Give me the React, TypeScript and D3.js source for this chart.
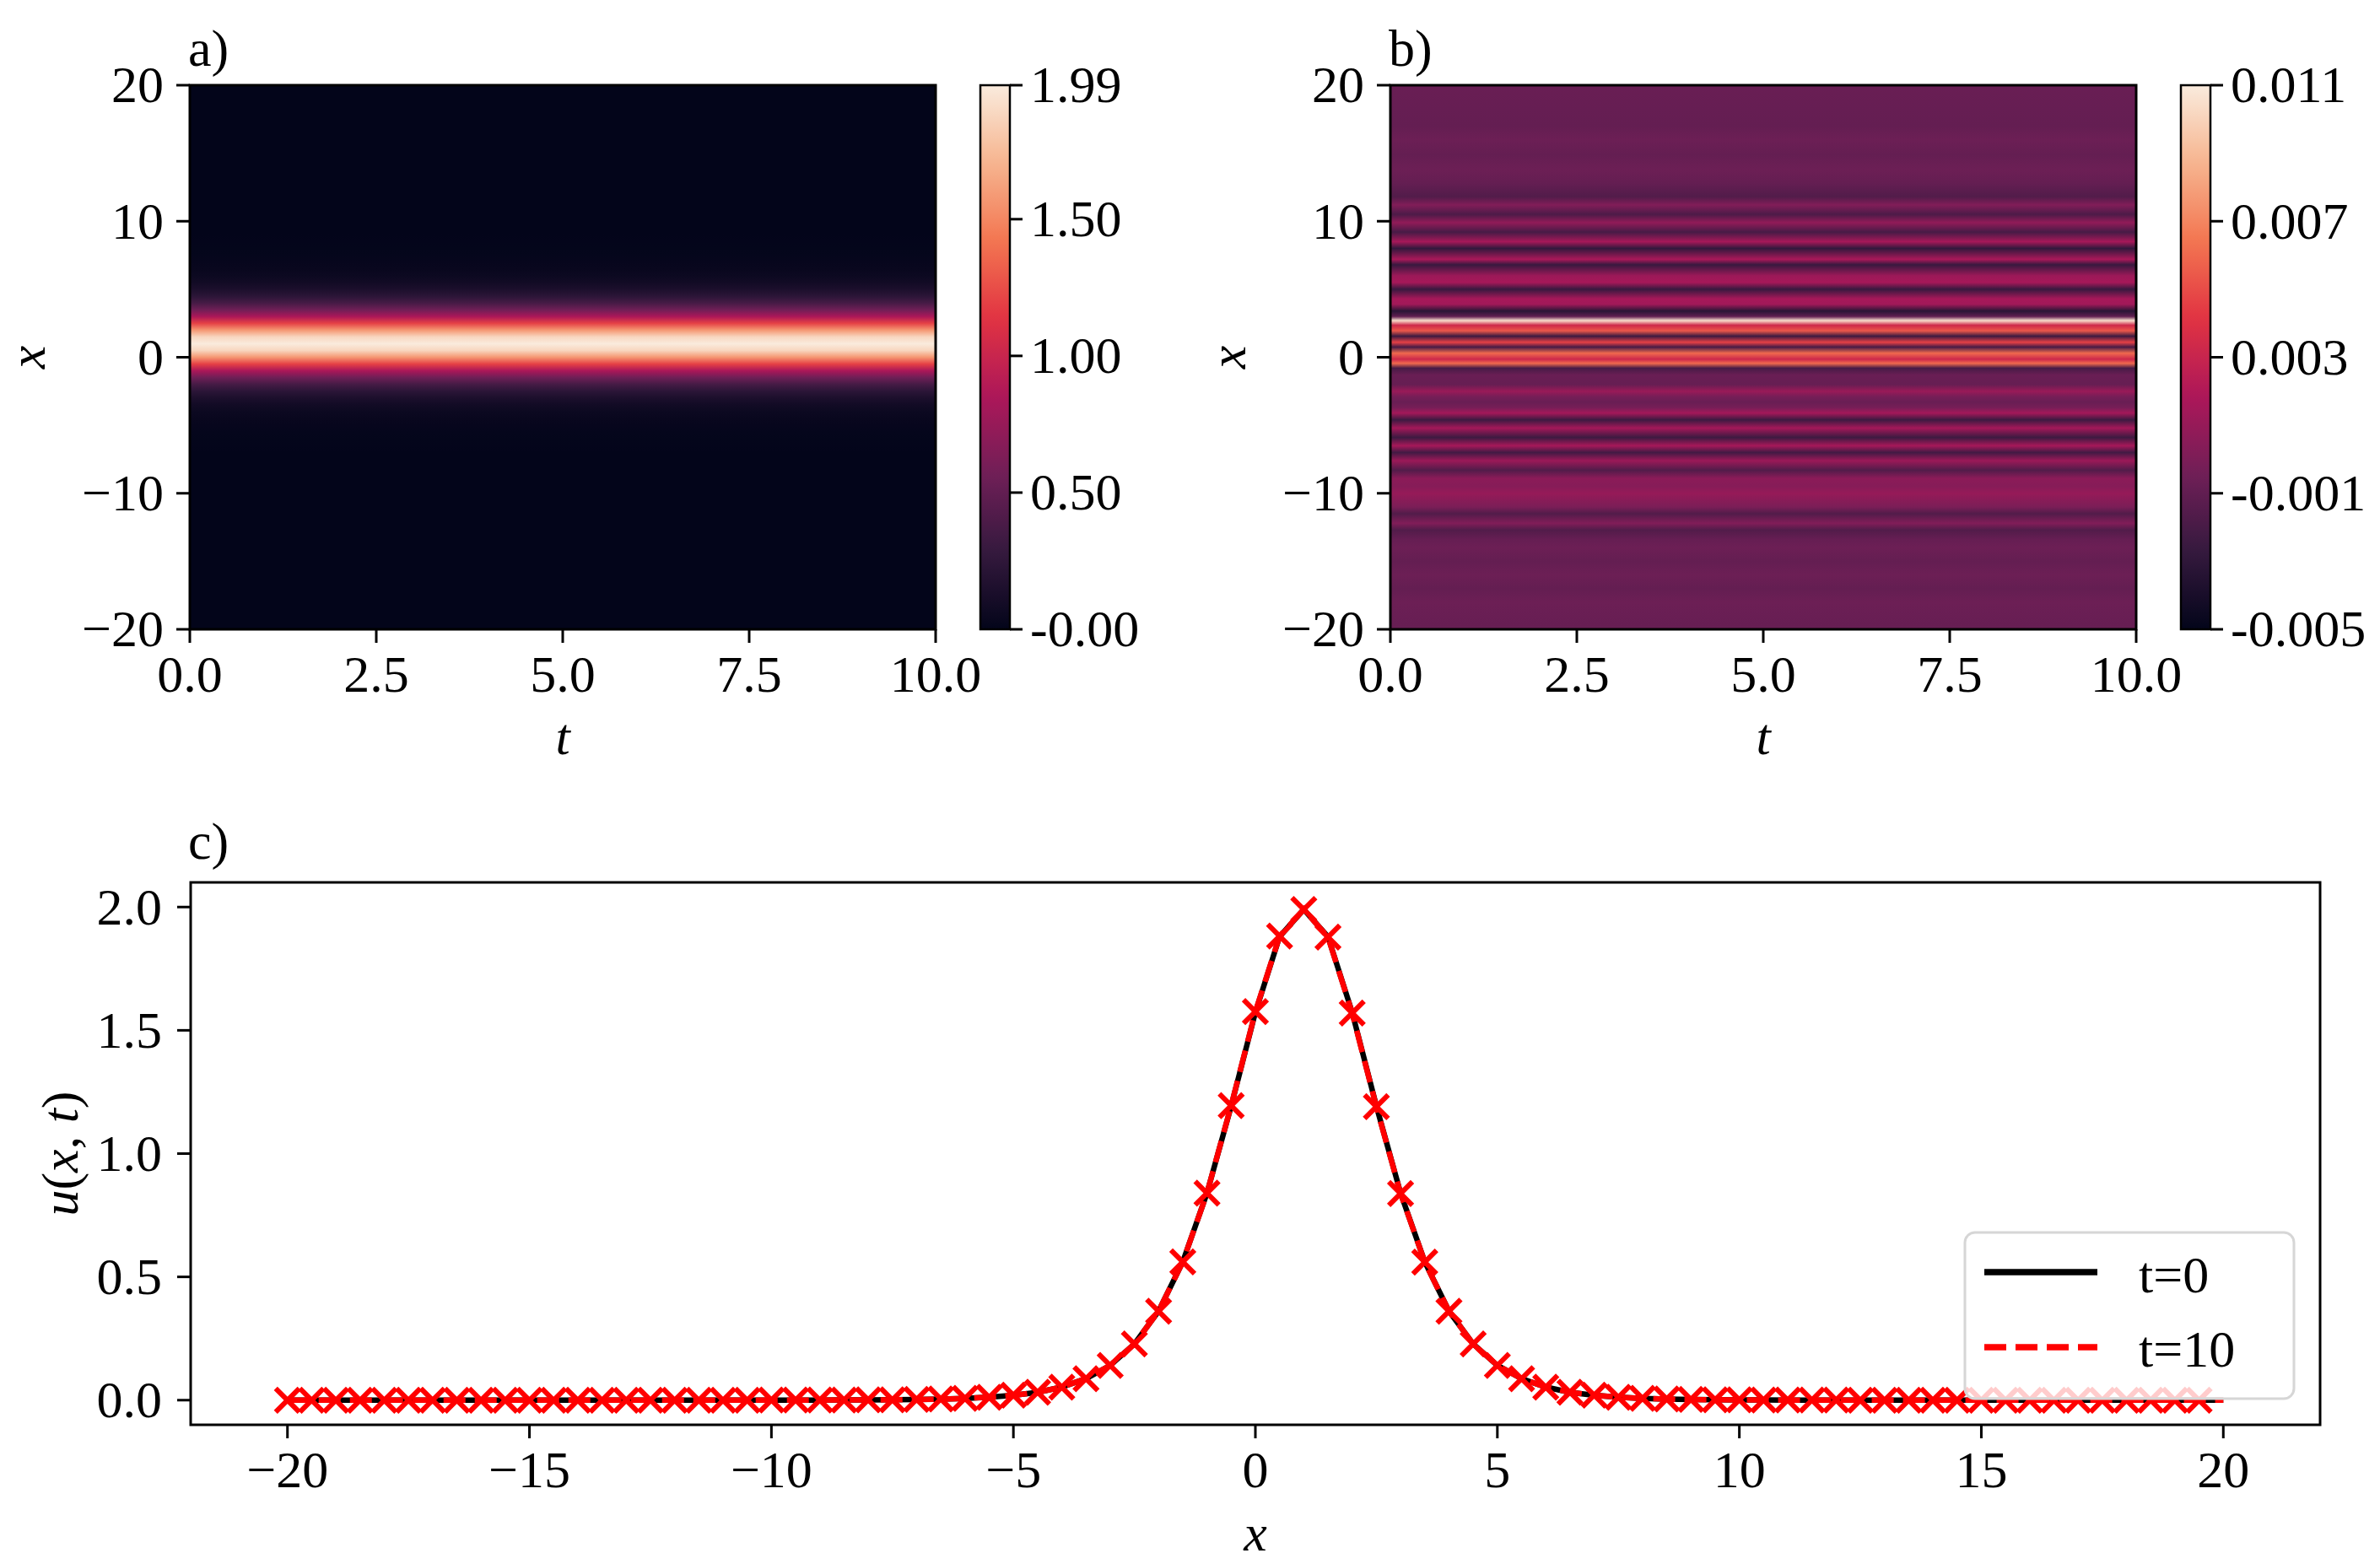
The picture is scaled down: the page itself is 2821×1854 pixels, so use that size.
import React from 'react';
import * as d3 from 'd3';

// ---- data ------------------------------------------------------------
// spatial grid used for the profile in panel c and the rows of heatmap a
const xGrid = [
  -20, -19.5, -19, -18.5, -18, -17.5, -17, -16.5, -16, -15.5,
  -15, -14.5, -14, -13.5, -13, -12.5, -12, -11.5, -11, -10.5,
  -10, -9.5, -9, -8.5, -8, -7.5, -7, -6.5, -6, -5.5,
  -5, -4.5, -4, -3.5, -3, -2.5, -2, -1.5, -1, -0.5,
  0, 0.5, 1, 1.5, 2, 2.5, 3, 3.5, 4, 4.5,
  5, 5.5, 6, 6.5, 7, 7.5, 8, 8.5, 9, 9.5,
  10, 10.5, 11, 11.5, 12, 12.5, 13, 13.5, 14, 14.5,
  15, 15.5, 16, 16.5, 17, 17.5, 18, 18.5, 19, 19.5, 20,
];

// u(x, t=0)
const uT0 = [
  0, 0, 0, 0, 0, 0, 0, 0, 0, 0,
  0, 0, 0, 0, 0, 0, 0, 0, 0, 0,
  0.0001, 0.0002, 0.0004, 0.0006, 0.001, 0.0016, 0.0027, 0.0044, 0.0073, 0.012,
  0.02, 0.032, 0.053, 0.087, 0.141, 0.228, 0.361, 0.561, 0.84, 1.193,
  1.573, 1.88, 1.99, 1.88, 1.573, 1.193, 0.84, 0.561, 0.361, 0.228,
  0.141, 0.087, 0.053, 0.032, 0.02, 0.012, 0.0073, 0.0044, 0.0027, 0.0016,
  0.001, 0.0006, 0.0004, 0.0002, 0.0001, 0, 0, 0, 0, 0,
  0, 0, 0, 0, 0, 0, 0, 0, 0, 0, 0,
];

// u(x, t=10)
const uT10 = [
  0, 0, 0, 0, 0, 0, 0, 0, 0, 0,
  0, 0, 0, 0, 0, 0, 0, 0, 0, 0,
  0.0001, 0.0002, 0.0004, 0.0006, 0.001, 0.0016, 0.0027, 0.0044, 0.0073, 0.012,
  0.02, 0.032, 0.053, 0.087, 0.141, 0.228, 0.361, 0.561, 0.84, 1.195,
  1.576, 1.882, 1.99, 1.878, 1.57, 1.19, 0.838, 0.56, 0.361, 0.228,
  0.141, 0.087, 0.053, 0.032, 0.02, 0.012, 0.0073, 0.0044, 0.0027, 0.0016,
  0.001, 0.0006, 0.0004, 0.0002, 0.0001, 0, 0, 0, 0, 0,
  0, 0, 0, 0, 0, 0, 0, 0, 0, 0, 0,
];

// difference u(x,10) - u(x,0)
const diffX = [
  -20, -18, -17, -16, -15, -14, -13.4, -12.7, -12.2, -11.5,
  -11, -10, -9.5, -8.9, -8.3, -7.6, -7, -6.5, -5.9, -5.2,
  -4.6, -4.1, -3.7, -3.3, -2.9, -2.5, -2, -1.3, -0.8, -0.45,
  -0.15, 0.3, 0.75, 1.1, 1.55, 1.95, 2.35, 2.7, 3, 3.4,
  3.9, 4.3, 5, 5.5, 6, 6.8, 7.2, 8, 8.5, 9.2,
  9.9, 10.5, 11.2, 11.8, 12.8, 13.8, 14.9, 16, 17, 18.2, 20,
];
const diffU = [
  -0.0008, -0.0006, -0.0009, -0.0006, -0.0009, -0.0006, -0.0008, -0.0016, 0.0002, -0.0016,
  0.0, 0.001, 0.0004, 0.0006, -0.0016, 0.0012, -0.0022, 0.0016, -0.0024, 0.0015,
  -0.0024, 0.0015, -0.0002, -0.0007, -0.0002, 0.0011, -0.0008, -0.0007, -0.002, 0.006,
  0.0032, 0.006, -0.002, 0.0046, -0.0024, 0.0054, 0.0033, 0.0105, -0.001, -0.0032,
  0.0014, 0.0016, -0.0026, 0.0016, 0.0012, -0.0026, 0.0017, -0.0028, 0.0016, -0.002,
  0.0008, -0.0018, 0.0002, -0.0016, -0.0009, -0.0006, -0.0009, -0.0006, -0.0009, -0.0008, -0.0007,
];

const tTicks = [0, 2.5, 5, 7.5, 10];
const xTicksHeat = [-20, -10, 0, 10, 20];
const cbTicksA = [0, 0.5, 1.0, 1.5, 1.99];
const cbLabelsA = ['-0.00', '0.50', '1.00', '1.50', '1.99'];
const cbTicksB = [-0.005, -0.001, 0.003, 0.007, 0.011];
const cbLabelsB = ['-0.005', '-0.001', '0.003', '0.007', '0.011'];
const xTicksC = [-20, -15, -10, -5, 0, 5, 10, 15, 20];
const yTicksC = [0, 0.5, 1.0, 1.5, 2.0];

// seaborn "rocket"
const rocketColors = ['#03051A', '#35193E', '#701F57', '#AD1759', '#E13342', '#F37651', '#F6B48F', '#FAEBDD'];
const rocket = d3.piecewise(d3.interpolateRgb, rocketColors);

const FONT = '"Liberation Serif", "DejaVu Serif", serif';
const FS = 62;
const TOP = 101;
const BOTTOM = 746;
const HW = 884;
const TICK = 16;

type HeatProps = {
  id: string;
  left: number;
  letter: string;
  xs: number[];
  vals: number[];
  cDomain: [number, number];
  cbTicks: number[];
  cbLabels: string[];
};

function Heatmap({ id, left, letter, xs, vals, cDomain, cbTicks, cbLabels }: HeatProps) {
  const t = d3.scaleLinear().domain([0, 10]).range([left, left + HW]);
  const y = d3.scaleLinear().domain([-20, 20]).range([BOTTOM, TOP]);
  const color = d3.scaleSequential(rocket).domain(cDomain);
  const cb = d3.scaleLinear().domain(cDomain).range([BOTTOM, TOP]);
  const cbX = left + HW + 53;
  const cbW = 35;

  const stops = xs
    .map((x, i) => ({ off: (y(x) - TOP) / (BOTTOM - TOP), c: color(vals[i]) }))
    .sort((a, b) => a.off - b.off);
  const cbStops = d3.range(0, 1.0001, 0.02).map(v => ({ off: 1 - v, c: rocket(v) })).sort((a, b) => a.off - b.off);

  return (
    <g>
      <defs>
        <linearGradient id={id} gradientUnits="userSpaceOnUse" x1={0} y1={TOP} x2={0} y2={BOTTOM}>
          {stops.map((s, i) => <stop key={i} offset={s.off} stopColor={s.c} />)}
        </linearGradient>
        <linearGradient id={id + '-cb'} gradientUnits="userSpaceOnUse" x1={0} y1={TOP} x2={0} y2={BOTTOM}>
          {cbStops.map((s, i) => <stop key={i} offset={s.off} stopColor={s.c} />)}
        </linearGradient>
      </defs>
      <rect x={left} y={TOP} width={HW} height={BOTTOM - TOP} fill={`url(#${id})`} />
      <rect x={left} y={TOP} width={HW} height={BOTTOM - TOP} fill="none" stroke="#000" strokeWidth={3} />

      {tTicks.map(v => (
        <g key={v}>
          <line x1={t(v)} x2={t(v)} y1={BOTTOM} y2={BOTTOM + TICK} stroke="#000" strokeWidth={3} />
          <text x={t(v)} y={820} textAnchor="middle">{d3.format('.1f')(v)}</text>
        </g>
      ))}
      {xTicksHeat.map(v => (
        <g key={v}>
          <line x1={left - TICK} x2={left} y1={y(v)} y2={y(v)} stroke="#000" strokeWidth={3} />
          <text x={left - 31} y={y(v)} dy="0.33em" textAnchor="end">{d3.format('d')(v)}</text>
        </g>
      ))}
      <text x={left + HW / 2} y={894} textAnchor="middle" fontStyle="italic">t</text>
      <text transform={`translate(${left - 172},${(TOP + BOTTOM) / 2}) rotate(-90)`} textAnchor="middle" fontStyle="italic">x</text>
      <text x={left - 2} y={78}>{letter}</text>

      <rect x={cbX} y={TOP} width={cbW} height={BOTTOM - TOP} fill={`url(#${id}-cb)`} stroke="#000" strokeWidth={2.5} />
      {cbTicks.map((v, i) => (
        <g key={i}>
          <line x1={cbX + cbW} x2={cbX + cbW + 15} y1={cb(v)} y2={cb(v)} stroke="#000" strokeWidth={3} />
          <text x={cbX + cbW + 24} y={cb(v)} dy="0.33em">{cbLabels[i]}</text>
        </g>
      ))}
    </g>
  );
}

function Profile() {
  const left = 226, right = 2750, top = 1046, bottom = 1689;
  const x = d3.scaleLinear().domain([-22, 22]).range([left, right]);
  const y = d3.scaleLinear().domain([-0.1, 2.1]).range([bottom, top]);
  const line = d3.line<number>().x((_, i) => x(xGrid[i])).y(d => y(d));
  // markers every grid point except the closing one at x = 20
  const marks = xGrid.slice(0, -1);
  const m = 14;

  return (
    <g>
      <path d={line(uT0) ?? ''} fill="none" stroke="#000" strokeWidth={6.5} />
      <path d={line(uT10) ?? ''} fill="none" stroke="#ff0000" strokeWidth={6.5} strokeDasharray="26 11" />
      {marks.map((xv, i) => (
        <path
          key={i}
          transform={`translate(${x(xv)},${y(uT10[i])})`}
          d={`M${-m},${-m}L${m},${m}M${-m},${m}L${m},${-m}`}
          stroke="#ff0000"
          strokeWidth={6}
        />
      ))}

      {/* legend */}
      <rect x={2329} y={1461} width={390} height={197} rx={12} fill="#fff" fillOpacity={0.8} stroke="#d6d6d6" strokeWidth={3} />
      <line x1={2352} x2={2486} y1={1508} y2={1508} stroke="#000" strokeWidth={7.5} />
      <text x={2535} y={1532}>t=0</text>
      <line x1={2352} x2={2486} y1={1597} y2={1597} stroke="#ff0000" strokeWidth={7.5} strokeDasharray="26 11" />
      <text x={2535} y={1620}>t=10</text>

      <rect x={left} y={top} width={right - left} height={bottom - top} fill="none" stroke="#000" strokeWidth={3} />
      {xTicksC.map(v => (
        <g key={v}>
          <line x1={x(v)} x2={x(v)} y1={bottom} y2={bottom + TICK} stroke="#000" strokeWidth={3} />
          <text x={x(v)} y={1763} textAnchor="middle">{d3.format('d')(v)}</text>
        </g>
      ))}
      {yTicksC.map(v => (
        <g key={v}>
          <line x1={left - TICK} x2={left} y1={y(v)} y2={y(v)} stroke="#000" strokeWidth={3} />
          <text x={left - 34} y={y(v)} dy="0.33em" textAnchor="end">{d3.format('.1f')(v)}</text>
        </g>
      ))}
      <text x={(left + right) / 2} y={1838} textAnchor="middle" fontStyle="italic">x</text>
      <text transform={`translate(92,${(top + bottom) / 2}) rotate(-90)`} textAnchor="middle">
        <tspan fontStyle="italic">u</tspan>(<tspan fontStyle="italic">x</tspan>, <tspan fontStyle="italic">t</tspan>)
      </text>
      <text x={223} y={1018}>c)</text>
    </g>
  );
}

export default function App() {
  return (
    <div style={{ position: 'absolute', left: 0, top: 0 }}>
      <svg width={2821} height={1854} style={{ display: 'block', background: '#fff' }} fontFamily={FONT} fontSize={FS}>
        <Heatmap id="ha" left={225} letter="a)" xs={xGrid} vals={uT0} cDomain={[0, 1.99]} cbTicks={cbTicksA} cbLabels={cbLabelsA} />
        <Heatmap id="hb" left={1648} letter="b)" xs={diffX} vals={diffU} cDomain={[-0.005, 0.011]} cbTicks={cbTicksB} cbLabels={cbLabelsB} />
        <Profile />
      </svg>
    </div>
  );
}
